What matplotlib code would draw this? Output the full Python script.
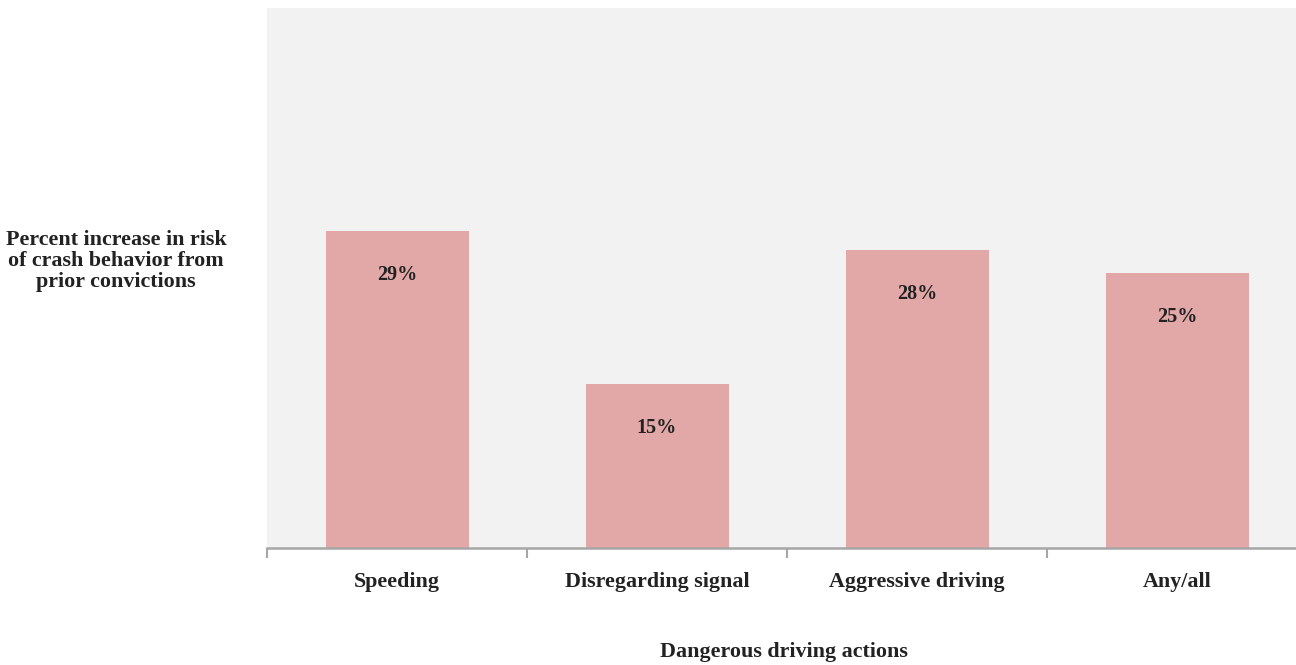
import matplotlib
matplotlib.use("Agg")
import matplotlib.pyplot as plt

categories = ["Speeding", "Disregarding signal", "Aggressive driving", "Any/all"]
values = [29.0, 15.0, 27.3, 25.2]
value_labels = ["29%", "15%", "28%", "25%"]

plt.rcParams['font.family'] = ['Liberation Serif', 'DejaVu Serif']

fig = plt.figure(figsize=(12.96, 6.65), dpi=100)
ax = fig.add_axes([267/1296, 117/665, 1040/1296, 540/665])
ax.set_facecolor("#f2f2f2")

x = list(range(len(categories)))
bars = ax.bar(x, values, width=0.55, color="#e1a8a7", zorder=2)
for b, lab in zip(bars, value_labels):
    ax.annotate(lab, (b.get_x() + b.get_width()/2, b.get_height()),
                xytext=(0, -32), textcoords="offset points",
                ha="center", va="center", fontsize=14.5, fontweight="bold", color="#222222")

ax.set_xlim(-0.5, 3.5)
ax.set_ylim(0, 49.4)
ax.set_yticks([])
for s in ["top", "right", "left"]:
    ax.spines[s].set_visible(False)
ax.spines["bottom"].set_color("#a6a6a6")
ax.spines["bottom"].set_linewidth(1.8)

ax.set_xticks([i - 0.5 for i in range(len(categories) + 1)], minor=False)
ax.set_xticklabels([])
ax.tick_params(axis="x", which="major", length=7, width=1.5, color="#a6a6a6")
ax.set_xticks(x, minor=True)
ax.set_xticklabels(categories, minor=True, fontsize=15.8, fontweight="bold", color="#222222")
ax.tick_params(axis="x", which="minor", length=0, pad=17)

fig.text(116/1296, 1 - 261/665, "Percent increase in risk\nof crash behavior from\nprior convictions",
         ha="center", va="center", fontsize=15.8, fontweight="bold", color="#222222", linespacing=1.07)
fig.text(784/1296, 1 - 652/665, "Dangerous driving actions",
         ha="center", va="center", fontsize=15.8, fontweight="bold", color="#222222")

fig.savefig("out.png", dpi=100)
